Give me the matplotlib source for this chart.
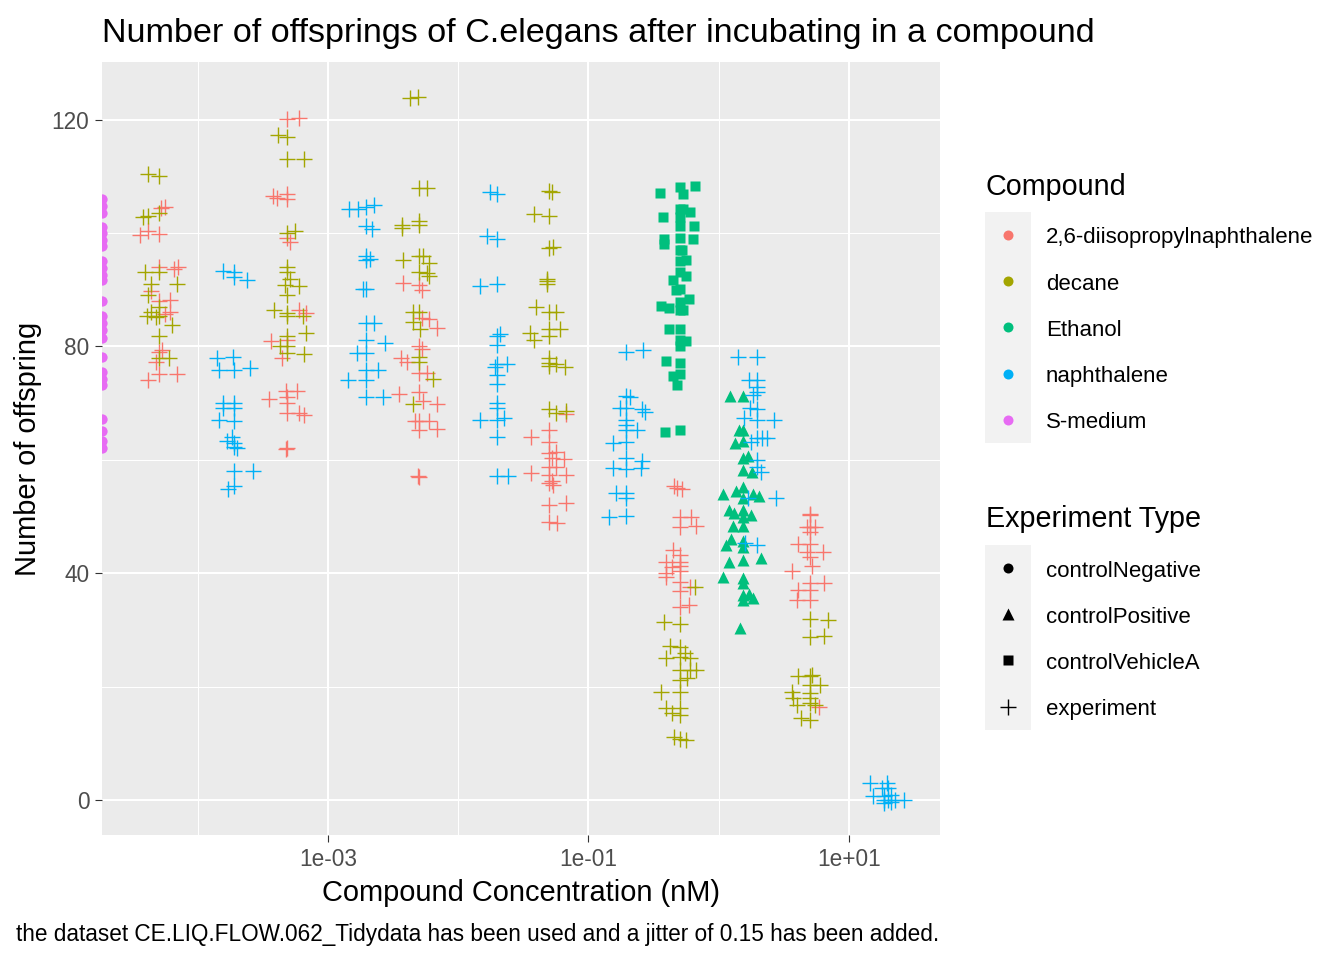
import numpy as np
import matplotlib.pyplot as plt
from matplotlib.lines import Line2D
from matplotlib.patches import Rectangle
from matplotlib.ticker import FixedLocator, NullFormatter

plt.rcParams['font.family'] = ['Liberation Sans', 'DejaVu Sans']

compounds = ["2,6-diisopropylnaphthalene", "decane", "Ethanol", "naphthalene", "S-medium"]
compound_colors = ["#F8766D", "#A3A500", "#00BF7D", "#00B0F6", "#E76BF3"]
exp_types = ["controlNegative", "controlPositive", "controlVehicleA", "experiment"]

# 2,6-diisopropylnaphthalene, experiment (jitter = offset in log10 units)
dipn_conc = [5e-5, 5e-4, 5e-3, 5e-2, 0.5, 5]
dipn_counts = [
    [104.4, 104.6, 99.7, 100.3, 99.9, 94, 93.7, 94, 89.8, 88.1, 88.2, 86, 85.7, 79.3, 79, 77.2, 74.1, 75.2, 75.2],
    [120.1, 120.3, 106.6, 106.2, 106.9, 106, 99.1, 98.5, 86.5, 85.9, 80.9, 81.2, 77.9, 70.7, 72.2, 72.2, 71, 70, 68.2, 68.2, 67.9, 62, 61.9],
    [91.2, 90.9, 89.9, 85, 84.8, 83.2, 80, 79.6, 77.9, 77.2, 75.3, 75.3, 71.6, 72, 70.3, 69.9, 66.9, 66.9, 66.9, 65.2, 65.4, 57, 57.2],
    [68.1, 64.1, 65.2, 63.2, 61.2, 61.3, 60.3, 60.1, 58.8, 58.7, 57.4, 56.2, 57.3, 57.6, 55.9, 55.5, 52.1, 52.3, 49.1, 48.9],
    [55.1, 55.3, 54.9, 50, 50, 48.2, 48.3, 44.1, 43.2, 41.9, 41.9, 41.2, 41.1, 40.1, 40.3, 39.3, 38.5, 36.8, 37.6, 34, 34.4],
    [50.5, 50.2, 48.1, 48.2, 48.1, 47.3, 45.2, 45.2, 43.8, 43.8, 42.9, 40.3, 41.2, 38.2, 38.2, 37.1, 37.1, 35.3, 35.3, 16.3],
]
dipn_jitter = [
    [0.02, 0.05, -0.14, -0.08, 0, 0, 0.12, 0.15, -0.06, 0, 0.09, 0.09, 0.05, 0.03, 0, -0.02, -0.08, 0, 0.14],
    [-0.01, 0.08, -0.12, -0.09, -0.01, -0.01, -0.01, 0.01, 0.08, 0.13, -0.14, -0.01, -0.05, -0.15, -0.02, 0.06, -0.01, -0.01, -0.01, 0.08, 0.12, -0.01, -0.02],
    [-0.12, 0, 0.02, 0.02, 0.08, 0.14, 0, 0.02, -0.14, -0.09, 0, 0.06, -0.15, 0, 0.03, 0.14, -0.03, 0, 0.08, 0, 0.14, 0, -0.01],
    [0.13, -0.14, 0, 0, 0, 0.05, 0.02, 0.11, 0, 0.05, 0, 0.02, 0.13, -0.14, 0, 0.03, 0, 0.13, 0, 0.06],
    [-0.02, -0.04, 0.02, 0, 0.09, 0, 0.13, -0.05, 0, -0.10, 0, 0, -0.06, -0.10, 0, -0.10, 0, 0, 0.08, 0, 0.07],
    [0, 0, -0.02, 0, 0.04, 0, -0.09, 0, -0.02, 0.10, 0, -0.14, 0.02, 0, 0.11, -0.09, 0, -0.10, 0, 0.07],
]

# decane, experiment
decane_conc = [5e-5, 5e-4, 5e-3, 5e-2, 0.5, 5]
decane_counts = [
    [110.4, 110, 102.9, 103.1, 103.5, 93.1, 93.1, 91, 91, 89, 86, 87, 85.3, 85.2, 85.3, 83.8, 81.9, 78, 78],
    [117.3, 116.9, 113, 113, 100, 100.3, 94.1, 93.2, 91.9, 90.9, 89.1, 90.6, 86.5, 85.9, 85.3, 85.3, 82.3, 81.9, 80, 80, 78.9, 78.6],
    [123.8, 124, 107.9, 107.9, 101.5, 100.9, 102.2, 101.5, 95.3, 96, 95.9, 94.8, 93.1, 93, 92.5, 86, 86, 84.3, 83.1, 78.2, 77.3, 74.3, 69.9],
    [107.5, 107.2, 103.3, 103, 97.4, 97.5, 91.9, 91.1, 91.5, 87, 86, 86, 83.1, 83.1, 82.3, 81.2, 81.9, 77.9, 77, 76.9, 76.3, 76.5, 69, 68.2, 68.6],
    [31.3, 31.1, 37.6, 27.2, 27, 26, 25, 25, 25.2, 22.9, 22.9, 23, 21.5, 21.2, 19.1, 19.1, 16.2, 16.2, 15.4, 15, 11.1, 10.7, 10.6],
    [32, 31.8, 28.8, 29, 21.9, 21.9, 22.1, 20.3, 20.2, 19.1, 18.9, 17.9, 17.9, 16.8, 17.1, 16.8, 14.4, 14.1],
]
decane_jitter = [
    [-0.08, 0, -0.12, -0.08, 0, -0.10, 0, 0.14, -0.06, -0.08, -0.06, 0, -0.09, -0.02, 0, 0.10, 0, 0.08, 0],
    [-0.08, -0.01, -0.01, 0.12, -0.01, 0.05, -0.01, -0.01, 0.01, -0.03, -0.01, 0.08, -0.11, -0.01, -0.01, 0.11, 0.13, -0.01, -0.07, -0.01, -0.01, 0.12],
    [-0.07, -0.01, 0, 0.06, -0.13, -0.13, 0, 0, -0.12, 0, 0.03, 0.08, 0, 0.06, 0.08, -0.05, 0, -0.05, 0.01, 0, 0, 0.11, -0.05],
    [0, 0.02, -0.12, 0, 0, 0.03, -0.02, -0.02, -0.02, -0.10, 0, 0.05, 0.08, 0, -0.15, -0.12, 0, 0, 0, 0.05, 0.12, 0, 0, 0.05, 0.13],
    [-0.12, 0, 0.12, -0.07, 0, 0.04, 0.08, -0.10, 0, 0.08, 0.13, 0, 0.06, 0, -0.14, 0, -0.10, 0, -0.06, 0, -0.04, 0, 0.05],
    [0, 0.14, 0, 0.11, -0.09, 0, 0.02, 0.08, 0, -0.14, 0, -0.13, 0, -0.10, 0, 0.04, -0.07, 0],
]

# naphthalene, experiment
naph_conc = [2e-4, 2e-3, 2e-2, 0.2, 2, 20]
naph_counts = [
    [93.3, 93.2, 92.2, 91.8, 77.9, 78.1, 75.9, 75.9, 76.2, 70, 70, 69.1, 69.1, 67.1, 66.9, 63.4, 64.1, 63, 62.2, 62.1, 58, 58, 54.8, 55.3],
    [104.2, 104.2, 104.7, 104.9, 101.2, 100.7, 96, 95.3, 95.4, 90.2, 90.2, 84.1, 84.1, 81.2, 80.7, 78.9, 78.9, 75.9, 75.9, 74.1, 74.1, 71, 71],
    [107.2, 106.9, 99.5, 98.9, 90.7, 91, 82.2, 81.9, 80.3, 76.9, 76.9, 76.3, 75, 73.4, 70.1, 69.1, 67.3, 67.1, 67.1, 64, 57.2, 57.2],
    [79.1, 79.3, 71.3, 71.1, 69.1, 69.1, 68.9, 68.5, 67.1, 66.2, 65.3, 65.3, 62.9, 63.2, 60.3, 59.8, 58.5, 58.3, 58.5, 54.1, 54.1, 53.2, 50, 50.1],
    [78.2, 78.1, 74.1, 74.1, 72.9, 72, 71.5, 69.1, 69, 67.3, 67.1, 67.1, 63.8, 63.8, 63.8, 63.2, 60, 58.8, 57.9, 53.2, 53.2, 45, 45.3],
    [2.9, 2.9, 2.1, 2.1, 0.7, 0.7, 0.9, 0, 0, 0, 0, -0.6, -0.4],
]
naph_jitter = [
    [-0.11, -0.02, -0.02, 0.08, -0.15, -0.03, -0.02, -0.14, 0.10, -0.11, -0.02, -0.11, -0.02, -0.14, -0.02, -0.08, -0.04, -0.02, -0.02, 0, -0.02, 0.12, -0.07, -0.02],
    [-0.14, -0.07, -0.01, 0.05, -0.01, 0.04, -0.01, -0.01, 0.02, -0.03, -0.01, -0.01, 0.05, -0.01, 0.14, -0.08, -0.01, -0.01, 0.08, -0.15, -0.01, -0.01, 0.12],
    [-0.06, 0, -0.08, 0, -0.13, 0, 0.02, 0, 0, 0, 0.07, -0.02, 0, 0, 0, 0, 0.05, -0.13, 0, 0, 0, 0.08],
    [-0.01, 0.12, -0.01, 0.02, -0.06, -0.01, 0.11, 0.13, -0.01, -0.01, -0.01, 0.07, -0.11, -0.01, -0.01, 0.11, -0.11, -0.01, 0.10, -0.09, -0.01, -0.01, -0.14, -0.01],
    [-0.15, -0.01, -0.07, -0.01, -0.01, -0.01, -0.04, -0.06, -0.01, -0.11, -0.01, 0.12, -0.01, 0.03, 0.07, -0.05, -0.01, -0.01, 0.02, 0.14, -0.08, -0.01, -0.10],
    [-0.14, -0.01, 0, -0.05, -0.12, -0.03, 0.02, -0.03, 0, 0.05, 0.12, -0.03, 0.02],
]

# Ethanol, controlVehicleA
vehicle_conc = [0.5]
vehicle_counts = [[107.1, 108.1, 106.9, 108.4, 104.2, 104.3, 103.8, 102.8, 102.9, 101.2, 101.2, 98.9, 98.1, 99.1,
                   98.9, 97.1, 97.1, 95.1, 95.3, 93.2, 92.5, 91.8, 89.9, 90.2, 87.1, 86.8, 87.9, 88.3, 86.5, 86.5,
                   83.1, 83.1, 81.2, 81, 80.1, 77.5, 77.1, 74.8, 75.2, 73.2, 64.9, 65.2]]
vehicle_jitter = [[-0.15, 0, 0.03, 0.12, 0, 0.03, 0.08, -0.13, 0, 0, 0.11, -0.12, -0.12, 0, 0.10, 0, 0.02, 0, 0.05,
                   0, 0.05, -0.05, -0.03, 0, -0.14, -0.08, 0, 0.07, 0, 0.03, -0.08, 0, 0, 0.05, 0, -0.10, 0, -0.05,
                   0, -0.02, -0.11, 0]]

# Ethanol, controlPositive
positive_conc = [1.5]
positive_counts = [[71.3, 71.3, 65.3, 65.3, 63, 63.4, 60.4, 60.6, 58.2, 57.9, 54, 54.5, 55.2, 54, 53.7, 53.2, 51.2,
                    50.6, 51.2, 50.3, 49.9, 48.3, 48.3, 46.1, 45, 44.7, 45.6, 42, 42.4, 42.6, 39.3, 39.1, 38.2, 36.2,
                    36.4, 35.7, 35.3, 30.4]]
positive_jitter = [[-0.09, 0.01, -0.02, 0.01, -0.05, 0.01, 0.01, 0.05, 0.01, 0.08, -0.14, -0.04, 0.01, 0.09, 0.13,
                    0.01, -0.10, -0.06, 0.01, 0.07, 0.01, -0.07, 0.01, -0.08, -0.12, 0.01, 0.01, -0.10, 0.01, 0.15,
                    -0.14, 0.01, 0.01, 0.01, 0.06, 0.09, 0.01, -0.01]]

# S-medium, controlNegative (concentration 0 -> drawn at the left edge of the log axis)
smedium_counts = [106, 104.8, 103.6, 101.1, 100, 98.8, 97.8, 95.1, 93.9, 92.6, 91.8, 88, 85.4, 84.2, 82.9, 81.5,
                  78.2, 75.5, 74.3, 73.2, 67.2, 65.1, 63.3, 62.1]

W, H = 1344, 960
fig = plt.figure(figsize=(W / 100, H / 100), dpi=100)
ax = fig.add_axes([102 / W, 1 - 835 / H, (940 - 102) / W, (835 - 62) / H])
ax.set_facecolor('#EBEBEB')
for s in ax.spines.values():
    s.set_visible(False)

ax.set_xscale('log')
xmin, xmax = 10 ** -4.735, 10 ** 1.699
ax.set_xlim(xmin, xmax)
ax.set_ylim(-6.2, 130.2)

ax.xaxis.set_major_locator(FixedLocator([1e-3, 1e-1, 1e1]))
ax.set_xticklabels(['1e-03', '1e-01', '1e+01'])
ax.xaxis.set_minor_locator(FixedLocator([1e-4, 1e-2, 1e0]))
ax.xaxis.set_minor_formatter(NullFormatter())
ax.set_yticks([0, 40, 80, 120])
ax.yaxis.set_minor_locator(FixedLocator([20, 60, 100]))

ax.grid(which='major', color='white', lw=1.45)
ax.grid(which='minor', color='white', lw=0.72)
ax.set_axisbelow(True)
ax.tick_params(which='major', length=5, width=0.8, color='#333333', labelcolor='#4D4D4D', labelsize=16.3, pad=4)
ax.tick_params(which='minor', length=0)


def draw_group(concs, counts, jitters, color, marker, ms, mew):
    for conc, ys, jit in zip(concs, counts, jitters):
        xs = conc * 10 ** np.array(jit)
        if marker == '+':
            ax.plot(xs, ys, ls='none', marker=marker, ms=ms, mew=mew, color=color)
        else:
            ax.plot(xs, ys, ls='none', marker=marker, ms=ms, mfc=color, mec='none')


ax.plot([xmin] * len(smedium_counts), smedium_counts, ls='none', marker='o', ms=7.4,
        mfc=compound_colors[4], mec='none')
draw_group(dipn_conc, dipn_counts, dipn_jitter, compound_colors[0], '+', 11.2, 1.0)
draw_group(decane_conc, decane_counts, decane_jitter, compound_colors[1], '+', 11.2, 1.0)
draw_group(vehicle_conc, vehicle_counts, vehicle_jitter, compound_colors[2], 's', 7.9, 0)
draw_group(positive_conc, positive_counts, positive_jitter, compound_colors[2], '^', 8.5, 0)
draw_group(naph_conc, naph_counts, naph_jitter, compound_colors[3], '+', 11.2, 1.0)

# titles
fig.text(102 / W, 1 - 42 / H, "Number of offsprings of C.elegans after incubating in a compound",
         fontsize=24.6, ha='left', va='baseline')
fig.text(521 / W, 1 - 901 / H, "Compound Concentration (nM)", fontsize=20.9, ha='center', va='baseline')
fig.text(28 / W, 1 - 448.5 / H, "Number of offspring", fontsize=20.9, rotation=90, ha='center', va='center')
fig.text(16 / W, 1 - 941 / H,
         "the dataset CE.LIQ.FLOW.062_Tidydata has been used and a jitter of 0.15 has been added.",
         fontsize=16.3, ha='left', va='baseline')


# legends
def fx(px):
    return px / W


def fy(py):
    return 1 - py / H


row_h = 46.2
fig.text(fx(986), fy(195), "Compound", fontsize=20.7, ha='left', va='baseline')
fig.add_artist(Rectangle((fx(985), fy(212 + 5 * row_h)), 46 / W, 5 * row_h / H,
                         transform=fig.transFigure, facecolor='#F2F2F2', edgecolor='none'))
for i, (name, col) in enumerate(zip(compounds, compound_colors)):
    yc = 235 + i * row_h
    fig.add_artist(Line2D([fx(1008)], [fy(yc)], transform=fig.transFigure, ls='none',
                          marker='o', ms=7.2, mfc=col, mec='none'))
    fig.text(fx(1046), fy(yc + 8.5), name, fontsize=16, ha='left', va='baseline')

fig.text(fx(986), fy(527), "Experiment Type", fontsize=20.7, ha='left', va='baseline')
fig.add_artist(Rectangle((fx(985), fy(545 + 4 * row_h)), 46 / W, 4 * row_h / H,
                         transform=fig.transFigure, facecolor='#F2F2F2', edgecolor='none'))
legend_markers = [('o', 7.2), ('^', 8.5), ('s', 7.9), ('+', 11.2)]
for i, (name, (mk, ms)) in enumerate(zip(exp_types, legend_markers)):
    yc = 568 + i * row_h
    if mk == '+':
        ln = Line2D([fx(1008)], [fy(yc)], transform=fig.transFigure, ls='none',
                    marker=mk, ms=ms, mew=1.0, color='black')
    else:
        ln = Line2D([fx(1008)], [fy(yc)], transform=fig.transFigure, ls='none',
                    marker=mk, ms=ms, mfc='black', mec='none')
    fig.add_artist(ln)
    fig.text(fx(1046), fy(yc + 8.5), name, fontsize=16, ha='left', va='baseline')

fig.savefig('out.png', dpi=100)
